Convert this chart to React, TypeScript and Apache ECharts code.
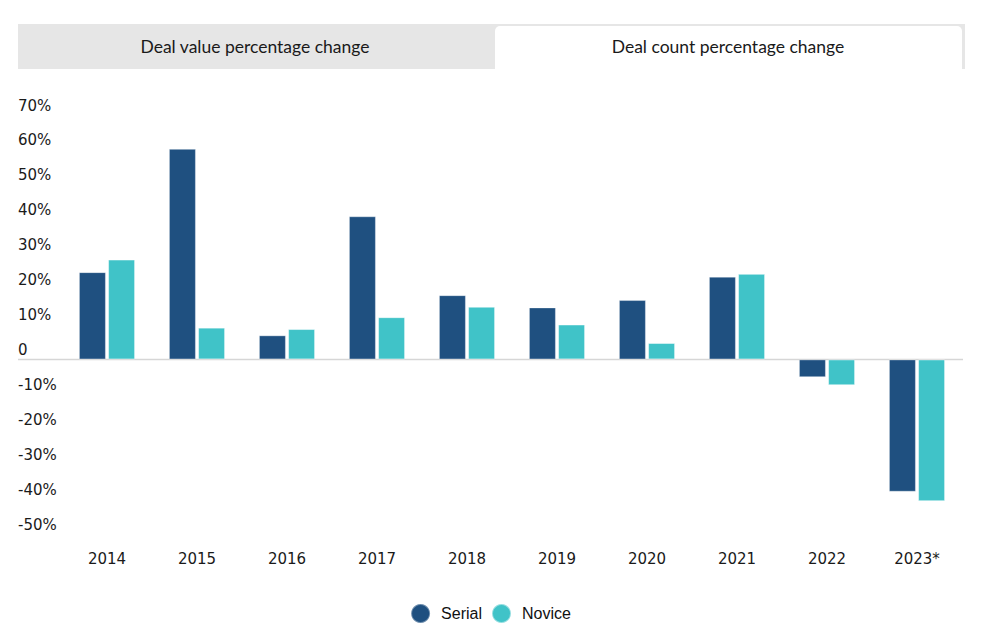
import React, { useEffect, useRef } from "react";
import * as echarts from "echarts";

const years = ["2014", "2015", "2016", "2017", "2018", "2019", "2020", "2021", "2022", "2023*"];
const serial = [25.0, 60.3, 6.9, 41.0, 18.4, 14.9, 17.0, 23.7, -5.1, -37.9];
const novice = [28.6, 9.1, 8.7, 12.1, 15.1, 10.0, 4.7, 24.5, -7.4, -40.6];
const tabLabels = ["Deal value percentage change", "Deal count percentage change"];

const SERIAL_COLOR = "#1f5080";
const NOVICE_COLOR = "#40c3c8";

export default function App() {
  const ref = useRef<HTMLDivElement>(null);
  useEffect(() => {
    if (!ref.current) return;
    const chart = echarts.init(ref.current, undefined, { renderer: "svg" });
    const labelFont = "'DejaVu Sans', sans-serif";
    chart.setOption({
      animation: false,
      backgroundColor: "#ffffff",
      grid: { left: 62, right: 19, top: 115, bottom: 108, containLabel: false },
      legend: {
        data: ["Serial", "Novice"],
        left: "center",
        top: 598,
        icon: "circle",
        itemWidth: 19,
        itemHeight: 19,
        itemGap: 9,
        textStyle: { fontFamily: "'Liberation Sans', Arial, sans-serif", fontSize: 16, color: "#111", padding: [0, 0, 0, 6] },
      },
      xAxis: {
        type: "category",
        data: years,
        axisLine: { show: false },
        axisTick: { show: false },
        axisLabel: { fontFamily: labelFont, fontSize: 15, color: "#1a1a1a", margin: 17 },
      },
      yAxis: {
        type: "value",
        min: -50,
        max: 70,
        interval: 10,
        axisLine: { show: false },
        axisTick: { show: false },
        splitLine: { show: false },
        axisLabel: {
          fontFamily: labelFont,
          fontSize: 15,
          color: "#1a1a1a",
          align: "left",
          margin: 44,
          verticalAlign: "bottom",
          lineHeight: 19,
          formatter: (v: number) => (v === 0 ? "0" : v + "%"),
        },
      },
      series: [
        {
          name: "Serial",
          type: "bar",
          data: serial,
          barWidth: 27,
          barGap: "8%",
          itemStyle: { color: SERIAL_COLOR, borderColor: "rgba(255,255,255,0.35)", borderWidth: 1 },
          z: 3,
        },
        {
          name: "Novice",
          type: "bar",
          data: novice,
          barWidth: 27,
          itemStyle: { color: NOVICE_COLOR, borderColor: "rgba(255,255,255,0.45)", borderWidth: 1 },
          z: 3,
        },
      ],
    });
    const zeroY = chart.convertToPixel({ yAxisIndex: 0 }, 0) as number;
    chart.setOption({
      graphic: [
        { type: "rect", shape: { x: 18, y: 24, width: 947, height: 45 }, style: { fill: "#e6e6e6" }, z: 1 },
        { type: "rect", shape: { x: 495, y: 26, width: 467, height: 43, r: [5, 5, 0, 0] }, style: { fill: "#ffffff" }, z: 2 },
        {
          type: "text",
          x: 255,
          y: 46,
          style: { text: tabLabels[0], fontFamily: "Lato, sans-serif", fontSize: 17.5, fill: "#1a1a1a", align: "center", verticalAlign: "middle" },
          z: 3,
        },
        {
          type: "text",
          x: 728,
          y: 46,
          style: { text: tabLabels[1], fontFamily: "Lato, sans-serif", fontSize: 17.5, fill: "#1a1a1a", align: "center", verticalAlign: "middle" },
          z: 3,
        },
        {
          type: "line",
          shape: { x1: 18, y1: zeroY, x2: 963, y2: zeroY },
          style: { stroke: "#d6d6d6", lineWidth: 1.5 },
          z: 0,
        },
      ],
    });
    return () => chart.dispose();
  }, []);
  return <div ref={ref} style={{ position: "fixed", left: 0, top: 0, width: 981, height: 642 }} />;
}
